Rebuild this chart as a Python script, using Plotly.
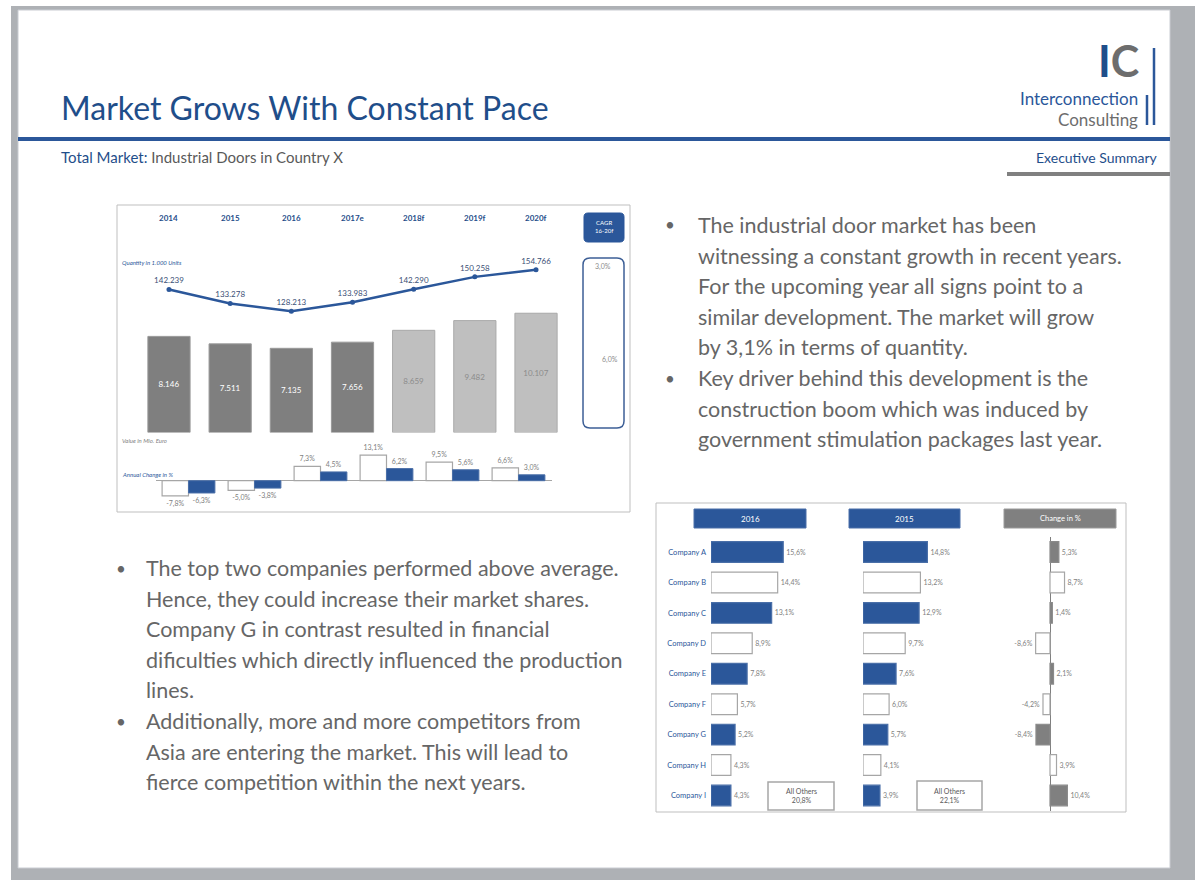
import plotly.graph_objects as go

# ---------------- data ----------------
years = ["2014", "2015", "2016", "2017e", "2018f", "2019f", "2020f"]
quantity = [142239, 133278, 128213, 133983, 142290, 150258, 154766]
value_mio = [8146, 7511, 7135, 7656, 8659, 9482, 10107]
forecast = [False, False, False, False, True, True, True]

change_years = ["2015", "2016", "2017e", "2018f", "2019f", "2020f"]
value_change = [-7.8, -5.0, 7.3, 13.1, 9.5, 6.6]
quantity_change = [-6.3, -3.8, 4.5, 6.2, 5.6, 3.0]

cagr_labels = ["3,0%", "6,0%"]

companies = ["Company A", "Company B", "Company C", "Company D", "Company E",
             "Company F", "Company G", "Company H", "Company I"]
share_2016 = [15.6, 14.4, 13.1, 8.9, 7.8, 5.7, 5.2, 4.3, 4.3]
share_2015 = [14.8, 13.2, 12.9, 9.7, 7.6, 6.0, 5.7, 4.1, 3.9]
share_change = [5.3, 8.7, 1.4, -8.6, 2.1, -4.2, -8.4, 3.9, 10.4]
others_2016 = "20,8%"
others_2015 = "22,1%"

right_lines = [
    "The industrial door market has been",
    "witnessing a constant growth in recent years.",
    "For the upcoming year all signs point to a",
    "similar development. The market will grow",
    "by 3,1% in terms of quantity.",
    "Key driver behind this development is the",
    "construction boom which was induced by",
    "government stimulation packages last year.",
]
right_bullets = [0, 5]
left_lines = [
    "The top two companies performed above average.",
    "Hence, they could increase their market shares.",
    "Company G in contrast resulted in financial",
    "dificulties which directly influenced the production",
    "lines.",
    "Additionally, more and more competitors from",
    "Asia are entering the market. This will lead to",
    "fierce competition within the next years.",
]
left_bullets = [0, 5]

# ---------------- style ----------------
W, H = 1195, 880
FONT = "Lato"
BLUE = "#2B579A"
DBLUE = "#1F4E8A"
GRAYTXT = "#666666"
DARKBAR = "#7f7f7f"
LIGHTBAR = "#bfbfbf"


def px(x):
    return x / W


def py(y):
    return 1 - y / H


def rrect_path(x0, y0, x1, y1, r):
    pts = [("M", [(x0 + r, y0)]), ("L", [(x1 - r, y0)]), ("Q", [(x1, y0), (x1, y0 + r)]),
           ("L", [(x1, y1 - r)]), ("Q", [(x1, y1), (x1 - r, y1)]), ("L", [(x0 + r, y1)]),
           ("Q", [(x0, y1), (x0, y1 - r)]), ("L", [(x0, y0 + r)]), ("Q", [(x0, y0), (x0 + r, y0)])]
    s = ""
    for cmd, ps in pts:
        s += cmd + " " + " ".join(f"{px(a):.5f},{py(b):.5f}" for a, b in ps) + " "
    return s + "Z"


fig = go.Figure()

# value bars
fig.add_trace(go.Bar(
    x=years, y=value_mio, xaxis="x", yaxis="y", width=0.69,
    marker=dict(color=[LIGHTBAR if f else DARKBAR for f in forecast],
                line=dict(color=["#a9a9a9" if f else "#999999" for f in forecast], width=1)),
    texttemplate="%{y:,.0f}", textposition="inside", insidetextanchor="middle",
    constraintext="none",
    textfont=dict(family=FONT, size=8, color=["#8c8c8c" if f else "white" for f in forecast]),
    hoverinfo="skip"))

# quantity line
fig.add_trace(go.Scatter(
    x=years, y=quantity, xaxis="x", yaxis="y2", mode="lines+markers+text",
    line=dict(color=BLUE, width=2.5), marker=dict(color=BLUE, size=5),
    texttemplate="%{y:,.0f}", textposition="top center",
    textfont=dict(family=FONT, size=8, color="#3b4f76"), cliponaxis=False, hoverinfo="skip"))

# annual change bars
fig.add_trace(go.Bar(
    x=change_years, y=value_change, xaxis="x3", yaxis="y3", width=0.4, offset=-0.4,
    marker=dict(color="white", line=dict(color="#a6a6a6", width=1.2)),
    texttemplate="%{y:.1f}%", textposition="outside", constraintext="none", cliponaxis=False,
    textfont=dict(family=FONT, size=7, color="#7f7f7f"), hoverinfo="skip"))
fig.add_trace(go.Bar(
    x=change_years, y=quantity_change, xaxis="x3", yaxis="y3", width=0.4, offset=0.0,
    marker=dict(color=BLUE, line=dict(color="#4a6fa8", width=1)),
    texttemplate="%{y:.1f}%", textposition="outside", constraintext="none", cliponaxis=False,
    textfont=dict(family=FONT, size=7, color="#7f7f7f"), hoverinfo="skip"))

# company shares
n = len(companies)
alt_blue = [BLUE if i % 2 == 0 else "white" for i in range(n)]
alt_blue_line = ["#4a6fa8" if i % 2 == 0 else "#a6a6a6" for i in range(n)]
alt_gray = ["#808080" if i % 2 == 0 else "white" for i in range(n)]
alt_gray_line = ["#8a8a8a" if i % 2 == 0 else "#a6a6a6" for i in range(n)]
for vals, xa, ya, cols, lcols in [(share_2016, "x4", "y4", alt_blue, alt_blue_line),
                                  (share_2015, "x5", "y5", alt_blue, alt_blue_line),
                                  (share_change, "x6", "y6", alt_gray, alt_gray_line)]:
    fig.add_trace(go.Bar(
        x=vals, y=companies, orientation="h", xaxis=xa, yaxis=ya, width=0.68,
        marker=dict(color=cols, line=dict(color=lcols, width=1.2)),
        texttemplate="%{x:.1f}%", textposition="outside", constraintext="none", cliponaxis=False,
        textfont=dict(family=FONT, size=7, color="#7f7f7f"), hoverinfo="skip"))

# ---------------- axes ----------------
hidden = dict(showgrid=False, zeroline=False, showline=False, showticklabels=False, ticks="")
rows_dom = [py(810.7), py(536.8)]
layout_axes = dict(
    xaxis=dict(domain=[px(138.4), px(566.6)], type="category", categoryarray=years,
               range=[-0.5, 6.5], **hidden),
    yaxis=dict(domain=[py(432.5), py(250)], range=[0, 15466], **hidden),
    yaxis2=dict(overlaying="y", anchor="x", range=[50728, 167443], **hidden),
    xaxis3=dict(domain=[px(155.5), px(551.5)], type="category", categoryarray=change_years,
                range=[-0.5, 5.5], anchor="y3", **hidden),
    yaxis3=dict(domain=[py(505), py(445)], range=[-12.46, 18.3], anchor="x3",
                showgrid=False, showline=False, showticklabels=False, ticks="",
                zeroline=True, zerolinecolor="#a6a6a6", zerolinewidth=1),
    xaxis4=dict(domain=[px(711), px(845)], range=[0, 28.94], anchor="y4", **hidden),
    yaxis4=dict(domain=rows_dom, type="category", categoryarray=companies, range=[8.5, -0.5],
                anchor="x4", showgrid=False, zeroline=False, showline=False, ticks="",
                showticklabels=True, ticklabelstandoff=4,
                tickfont=dict(family=FONT, size=7.5, color=BLUE)),
    xaxis5=dict(domain=[px(863), px(995)], range=[0, 30.34], anchor="y5", **hidden),
    yaxis5=dict(domain=rows_dom, type="category", categoryarray=companies, range=[8.5, -0.5],
                anchor="x5", **hidden),
    xaxis6=dict(domain=[px(1000), px(1115)], range=[-29.94, 38.92], anchor="y6",
                showgrid=False, showline=False, showticklabels=False, ticks="",
                zeroline=True, zerolinecolor="#7f7f7f", zerolinewidth=1),
    yaxis6=dict(domain=rows_dom, type="category", categoryarray=companies, range=[8.5, -0.5],
                anchor="x6", **hidden),
)

# ---------------- shapes ----------------
def rect(x0, y0, x1, y1, fill="rgba(0,0,0,0)", line=None, lw=1, layer="below"):
    return dict(type="rect", xref="paper", yref="paper", x0=px(x0), x1=px(x1), y0=py(y1), y1=py(y0),
                fillcolor=fill, line=dict(color=line or "rgba(0,0,0,0)", width=lw if line else 0),
                layer=layer)


def hline(x0, x1, y, color, w):
    return dict(type="line", xref="paper", yref="paper", x0=px(x0), x1=px(x1), y0=py(y), y1=py(y),
                line=dict(color=color, width=w))


def vline(x, y0, y1, color, w):
    return dict(type="line", xref="paper", yref="paper", x0=px(x), x1=px(x), y0=py(y0), y1=py(y1),
                line=dict(color=color, width=w))


shapes = [
    rect(11, 6, 1195, 880, fill="#aeb1b5"),
    rect(18, 10, 1170, 868, fill="white", line="#c9ccd2", lw=1),
    hline(18, 1170, 139, BLUE, 4),
    hline(1007, 1170, 174, "#808080", 4),
    vline(1154, 48, 125, BLUE, 2.5),
    vline(1147, 95, 125, BLUE, 2.5),
    rect(117, 205, 630, 512, line="#bfbfbf", lw=1),
    rect(656, 503, 1126, 812, line="#bfbfbf", lw=1),
    dict(type="path", xref="paper", yref="paper", path=rrect_path(584, 213, 624, 242, 4),
         fillcolor=BLUE, line=dict(color=BLUE, width=1), layer="below"),
    dict(type="path", xref="paper", yref="paper", path=rrect_path(583, 258, 624, 428, 7),
         fillcolor="rgba(0,0,0,0)", line=dict(color="#3d5f96", width=1.5), layer="below"),
    rect(694, 509, 806, 528, fill=BLUE, line="#4a6fa8", lw=1),
    rect(849, 509, 960, 528, fill=BLUE, line="#4a6fa8", lw=1),
    rect(1004, 509, 1116, 528, fill="#808080", line="#9a9a9a", lw=1),
    rect(768, 782, 834, 810, fill="white", line="#a6a6a6", lw=1.5),
    rect(917, 781, 982, 810, fill="white", line="#a6a6a6", lw=1.5),
]

# ---------------- annotations ----------------
def ann(text, x, y, size, color, xanchor="left", bold=False, italic=False, align="left",
        yanchor="middle"):
    if bold:
        text = f"<b>{text}</b>"
    if italic:
        text = f"<i>{text}</i>"
    return dict(text=text, x=px(x), y=py(y), xref="paper", yref="paper", showarrow=False,
                xanchor=xanchor, yanchor=yanchor, align=align, borderpad=0,
                font=dict(family=FONT, size=size, color=color))


annotations = [
    ann("Market Grows With Constant Pace", 60, 107, 32, DBLUE),
    ann(f"<span style='color:{DBLUE}'>Total Market:</span> Industrial Doors in Country X",
        60, 157, 15, "#595959"),
    ann("Executive Summary", 1159, 157, 14, DBLUE, xanchor="right"),
    ann(f"<span style='color:{DBLUE}'>I</span><span style='color:#6d6d6d'>C</span>",
        1140, 60.8, 43, DBLUE, xanchor="right", bold=True),
    ann("Interconnection", 1139, 98.4, 17, BLUE, xanchor="right"),
    ann("Consulting", 1139, 119.2, 17, "#6d6d6d", xanchor="right"),
    ann("Quantity in 1.000 Units", 121, 262, 6, BLUE, italic=True),
    ann("Value in Mio. Euro", 121, 440, 6, "#7f7f7f", italic=True),
    ann("Annual Change in %", 121, 474, 6, BLUE, italic=True),
    ann("CAGR<br>16-20f", 604, 227, 6, "white", xanchor="center", align="center"),
    ann(cagr_labels[0], 603, 266, 7, "#8c8c8c", xanchor="center"),
    ann(cagr_labels[1], 610, 359, 7, "#8c8c8c", xanchor="center"),
    ann("2016", 750, 518.5, 8, "white", xanchor="center"),
    ann("2015", 904.5, 518.5, 8, "white", xanchor="center"),
    ann("Change in %", 1060, 518.5, 7.5, "white", xanchor="center"),
    ann(f"All Others<br>{others_2016}", 801, 796, 7, "#595959", xanchor="center", align="center"),
    ann(f"All Others<br>{others_2015}", 949.5, 795.5, 7, "#595959", xanchor="center", align="center"),
]
# year headers (category index positions on the value axis)
for i, yr in enumerate(years):
    annotations.append(dict(text=f"<b>{yr}</b>", x=i, xref="x", y=py(218), yref="paper",
                            showarrow=False, xanchor="center", yanchor="middle",
                            font=dict(family=FONT, size=8, color=DBLUE)))

# bullet texts
for i, line in enumerate(right_lines):
    y = 225 + i * 30.6
    annotations.append(ann(line, 697, y, 21.5, GRAYTXT))
    if i in right_bullets:
        annotations.append(ann("•", 664, y, 17, GRAYTXT))
for i, line in enumerate(left_lines):
    y = 568 + i * 30.6
    annotations.append(ann(line, 145, y, 21.5, GRAYTXT))
    if i in left_bullets:
        annotations.append(ann("•", 115, y, 17, GRAYTXT))

fig.update_layout(
    width=W, height=H, margin=dict(l=0, r=0, t=0, b=0),
    paper_bgcolor="white", plot_bgcolor="rgba(0,0,0,0)",
    showlegend=False, barmode="overlay", separators=",.",
    font=dict(family=FONT),
    shapes=shapes, annotations=annotations,
    **layout_axes,
)

fig.write_html("out.html")
